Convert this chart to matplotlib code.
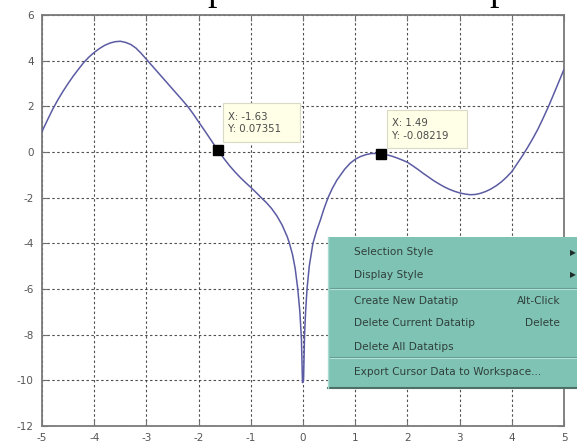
import matplotlib
matplotlib.use("Agg")
import matplotlib.pyplot as plt
from matplotlib.patches import Rectangle
from matplotlib.lines import Line2D

plt.rcParams["axes.unicode_minus"] = False

# ---- data ----
curve_x = [-5.0, -4.9, -4.8, -4.7, -4.6, -4.5, -4.4, -4.3, -4.2, -4.1, -4.0, -3.9, -3.8, -3.7,
           -3.6, -3.5, -3.4, -3.3, -3.2, -3.1, -3.0, -2.9, -2.8, -2.7, -2.6, -2.5, -2.4, -2.3,
           -2.2, -2.1, -2.0, -1.9, -1.8, -1.7, -1.63, -1.5, -1.4, -1.3, -1.2, -1.1, -1.0, -0.9,
           -0.8, -0.7, -0.6, -0.5, -0.4, -0.3, -0.26, -0.2, -0.15, -0.1, -0.06, -0.03, -0.01,
           0.01, 0.03, 0.05, 0.077, 0.12, 0.19, 0.26, 0.33, 0.4, 0.48, 0.56, 0.65, 0.8, 0.9,
           1.0, 1.1, 1.2, 1.3, 1.4, 1.49, 1.6, 1.7, 1.8, 1.9, 2.0, 2.1, 2.2, 2.3, 2.4, 2.5, 2.6,
           2.7, 2.8, 2.9, 3.0, 3.1, 3.2, 3.3, 3.4, 3.5, 3.6, 3.7, 3.8, 3.9, 4.0, 4.1, 4.2, 4.3,
           4.4, 4.5, 4.6, 4.7, 4.8, 4.9, 5.0]
curve_y = [0.90, 1.38, 1.85, 2.27, 2.65, 3.00, 3.33, 3.63, 3.92, 4.16, 4.36, 4.53, 4.67, 4.77,
           4.83, 4.85, 4.80, 4.71, 4.55, 4.32, 4.06, 3.80, 3.54, 3.28, 3.02, 2.76, 2.50, 2.24,
           1.97, 1.66, 1.32, 0.99, 0.65, 0.31, 0.0735, -0.33, -0.62, -0.88, -1.12, -1.34, -1.55,
           -1.77, -2.00, -2.22, -2.48, -2.80, -3.20, -3.72, -4.0, -4.5, -5.1, -6.0, -7.0, -8.2,
           -10.1, -10.0, -8.0, -7.0, -6.0, -5.0, -4.0, -3.45, -3.0, -2.5, -2.0, -1.6, -1.23,
           -0.75, -0.5, -0.32, -0.2, -0.12, -0.07, -0.06, -0.082, -0.12, -0.18, -0.26, -0.35,
           -0.45, -0.60, -0.76, -0.93, -1.09, -1.25, -1.39, -1.52, -1.63, -1.72, -1.79, -1.84,
           -1.87, -1.86, -1.81, -1.73, -1.62, -1.48, -1.31, -1.10, -0.86, -0.52, -0.18, 0.19,
           0.58, 1.00, 1.48, 1.98, 2.52, 3.07, 3.62]

tip_x = [-1.63, 1.49]
tip_y = [0.07351, -0.08219]
tip_labels = [("X: -1.63", "Y: 0.07351"), ("X: 1.49", "Y: -0.08219")]

x_ticks = [-5, -4, -3, -2, -1, 0, 1, 2, 3, 4, 5]
y_ticks = [-12, -10, -8, -6, -4, -2, 0, 2, 4, 6]

menu_items = ["Selection Style", "Display Style", "Create New Datatip",
              "Delete Current Datatip", "Delete All Datatips",
              "Export Cursor Data to Workspace..."]
menu_shortcuts = ["", "", "Alt-Click", "Delete", "", ""]

# ---- figure ----
W, H = 577, 447
fig = plt.figure(figsize=(W / 100, H / 100), dpi=100)
fig.patch.set_facecolor("white")

def fx(px):
    return px / W

def fy(py):
    return 1 - py / H

ax = fig.add_axes([fx(42), fy(426), (564 - 42) / W, (426 - 15) / H])
ax.plot(curve_x, curve_y, color="#5b5ba3", lw=1.1, zorder=3)
ax.plot(tip_x, tip_y, "s", color="black", ms=7, zorder=4)

ax.set_xlim(-5, 5)
ax.set_ylim(-12, 6)
ax.set_xticks(x_ticks)
ax.set_yticks(y_ticks)
ax.grid(True, color="#303030", linestyle=(0, (2.2, 2.2)), lw=0.8, alpha=0.85)
for s in ax.spines.values():
    s.set_color("#7a7a7a")
    s.set_linewidth(1.3)
ax.tick_params(direction="in", length=4, width=0.8, color="#707070",
               top=True, right=True, labelsize=7.5, labelcolor="#555555")
ax.tick_params(axis="y", pad=6)
ax.tick_params(axis="x", pad=5)
for lab in ax.get_xticklabels() + ax.get_yticklabels():
    lab.set_family("DejaVu Sans")

# ---- datatip boxes ----
boxes = [(222.7, 103.3, 300, 141.7), (386.7, 110, 466.7, 148.3)]
for (x0, y0, x1, y1), (l1, l2) in zip(boxes, tip_labels):
    fig.patches.append(Rectangle((fx(x0), fy(y1)), fx(x1) - fx(x0), fy(y0) - fy(y1),
                                 transform=fig.transFigure, facecolor="#ffffe8",
                                 edgecolor="#d9d9c4", lw=0.8, zorder=5))
    fig.text(fx(x0 + 5.5), fy(y0 + 13.5), l1, fontsize=7.3, color="#4a4a4a",
             va="center", ha="left", family="DejaVu Sans", zorder=6)
    fig.text(fx(x0 + 5.5), fy(y0 + 25.8), l2, fontsize=7.3, color="#4a4a4a",
             va="center", ha="left", family="DejaVu Sans", zorder=6)

# ---- context menu ----
mx0, my0, mx1, my1 = 328.3, 236.7, 578, 387.7
fig.patches.append(Rectangle((fx(mx0), fy(my1)), fx(mx1) - fx(mx0), fy(my0) - fy(my1),
                             transform=fig.transFigure, facecolor="#7fc3b4",
                             edgecolor="none", zorder=7))
fig.lines.append(Line2D([fx(mx0), fx(mx1)], [fy(my1), fy(my1)], transform=fig.transFigure,
                        color="#4d6f68", lw=1.5, zorder=8))
fig.lines.append(Line2D([fx(mx0), fx(mx0)], [fy(my0), fy(my1)], transform=fig.transFigure,
                        color="#a9dcd1", lw=1.0, zorder=8))
for sep in (287.7, 356.7):
    fig.lines.append(Line2D([fx(mx0 + 2), fx(mx1)], [fy(sep), fy(sep)],
                            transform=fig.transFigure, color="#5f9c8f", lw=0.8, zorder=8))
    fig.lines.append(Line2D([fx(mx0 + 2), fx(mx1)], [fy(sep + 1.2), fy(sep + 1.2)],
                            transform=fig.transFigure, color="#b5e2d8", lw=0.8, zorder=8))
item_y = [252.3, 275.0, 301.0, 323.3, 346.7, 371.7]
for lab, sc, iy in zip(menu_items, menu_shortcuts, item_y):
    fig.text(fx(354), fy(iy), lab, fontsize=7.6, color="#2f3f3b", va="center", ha="left",
             family="DejaVu Sans", zorder=9)
    if sc:
        fig.text(fx(560), fy(iy), sc, fontsize=7.6, color="#2f3f3b", va="center", ha="right",
                 family="DejaVu Sans", zorder=9)
for iy in item_y[:2]:
    fig.text(fx(570), fy(iy), "\u25B6", fontsize=5.5, color="#1e2b28", va="center",
             ha="left", family="DejaVu Sans", zorder=9)

# ---- cut-off title glyphs at the very top ----
for px in (207, 489):
    fig.text(fx(px), 1.0, "p", fontsize=27, color="black", va="baseline", ha="left",
             family="Liberation Serif", zorder=10)

fig.savefig("out.png", dpi=100, facecolor="white")
